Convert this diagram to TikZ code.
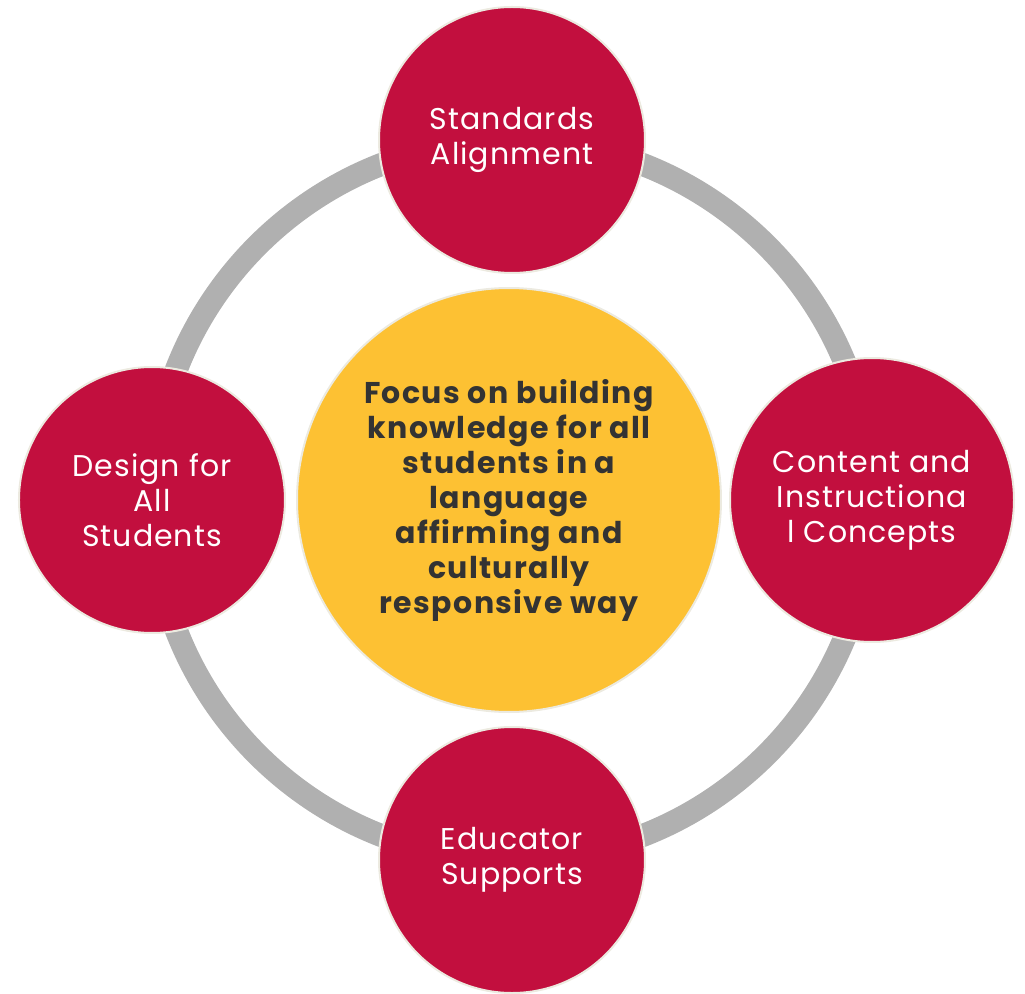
\documentclass[tikz,border=0pt]{standalone}
\usepackage{fontspec}
\setmainfont{Poppins}
\newfontfamily\rimfont[LetterSpace=3.5]{Poppins}
\newfontfamily\hubfont[LetterSpace=4.5]{Poppins}
\definecolor{ringred}{HTML}{C20F3E}
\definecolor{hubyellow}{HTML}{FDC133}
\definecolor{ringgray}{HTML}{B0B0B0}
\definecolor{rimbeige}{HTML}{ECEAE0}
\definecolor{hubtext}{HTML}{333333}

\tikzset{rim/.style={main, fill=ringred, text=white, font=\rimfont\fontsize{30}{35}\selectfont}}
\tikzset{hub/.style={main, fill=hubyellow, text=hubtext, minimum size=424pt, font=\hubfont\bfseries\fontsize{30}{35}\selectfont}}

\begin{document}
\begin{tikzpicture}[x=1pt,y=1pt,node distance={360pt},main/.style={draw=rimbeige, line width=2pt, circle, align=center, inner sep=0pt, minimum size=266pt}]
    \useasboundingbox (-512,-493) rectangle (513,500);
    \coordinate (o) at (0,0);
    \draw[ringgray, line width=23pt] (o) circle (360pt);

    \node[hub] (0) at (-3,0) {Focus on building\\knowledge for all\\students in a\\language\\affirming and\\culturally\\responsive way};
    \node[rim] (1) [above of=o] {Standards\\Alignment};
    \node[rim, minimum size=284pt] (2) [right of=o] {Content and\\Instructiona\\l Concepts};
    \node[rim] (3) [below of=o] {Educator\\Supports};
    \node[rim] (4) [left of=o] {Design for\\All\\Students};
\end{tikzpicture}
\end{document}
